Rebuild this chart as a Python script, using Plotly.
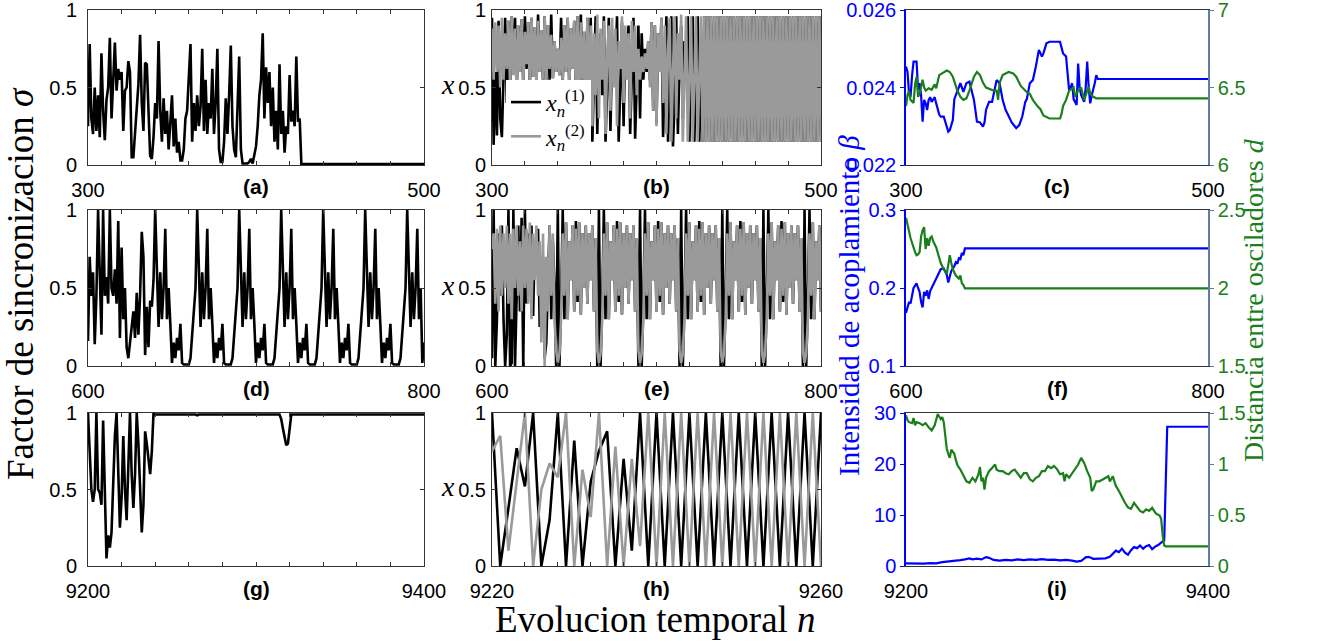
import plotly.graph_objects as go

W, H = 1340, 642

# ---------------- data ----------------
# (a) synchronization factor, n = 300.. (chaotic part), last point n = 500
A_SIGMA = [
    0.25, 0.78, 0.3, 0.2, 0.5, 0.22, 0.45, 0.18, 0.72, 0.35,
    0.16, 0.42, 0.5, 0.82, 0.3, 0.55, 0.79, 0.48, 0.62, 0.55,
    0.6, 0.22, 0.48, 0.5, 0.67, 0.6, 0.05, 0.05, 0.2, 0.38,
    0.52, 0.84, 0.4, 0.22, 0.66, 0.65, 0.3, 0.06, 0.04, 0.18,
    0.4, 0.3, 0.8, 0.35, 0.15, 0.43, 0.2, 0.35, 0.1, 0.28,
    0.45, 0.12, 0.3, 0.08, 0.15, 0.03, 0.03, 0.1, 0.3, 0.35,
    0.58, 0.78, 0.15, 0.4, 0.22, 0.45, 0.25, 0.38, 0.75, 0.22,
    0.55, 0.2, 0.4, 0.3, 0.62, 0.2, 0.4, 0.75, 0.1, 0.02,
    0.02, 0.15, 0.43, 0.2, 0.45, 0.77, 0.25, 0.1, 0.05, 0.38,
    0.7, 0.1, 0.01, 0.01, 0.01, 0.01, 0.02, 0.04, 0.01, 0.08,
    0.12, 0.25, 0.45, 0.55, 0.85, 0.3, 0.63, 0.4, 0.6, 0.25,
    0.5, 0.15, 0.35, 0.1, 0.65, 0.2, 0.35, 0.08, 0.25, 0.2,
    0.58, 0.28, 0.35, 0.25, 0.7, 0.28, 0.3, 0.006,
]
A_END_N = 500
A_END_SIGMA = 0.006

# (b) oscillators x1, x2, n = 300..427 chaotic, then synchronized n = 428..500
B_X1_CHAOS = [
    0.95, 0.13, 0.6, 0.19, 0.93, 0.3, 0.18, 0.6, 0.95, 0.4,
    0.93, 0.5, 0.96, 0.62, 0.95, 0.45, 0.9, 0.6, 0.94, 0.52,
    0.96, 0.62, 0.92, 0.5, 0.95, 0.57, 0.89, 0.55, 0.97, 0.6,
    0.87, 0.55, 0.96, 0.5, 0.9, 0.55, 0.97, 0.56, 0.8, 0.6,
    0.75, 0.58, 0.95, 0.55, 0.9, 0.6, 0.95, 0.5, 0.88, 0.62,
    0.93, 0.45, 0.96, 0.62, 0.97, 0.55, 0.86, 0.35, 0.95, 0.5,
    0.95, 0.15, 0.55, 0.96, 0.2, 0.7, 0.85, 0.45, 0.96, 0.15,
    0.5, 0.95, 0.22, 0.75, 0.8, 0.62, 0.96, 0.15, 0.5, 0.92,
    0.25, 0.8, 0.7, 0.9, 0.2, 0.65, 0.95, 0.17, 0.6, 0.9,
    0.3, 0.85, 0.55, 0.75, 0.6, 0.8, 0.55, 0.92, 0.35, 0.9,
    0.27, 0.85, 0.6, 0.95, 0.18, 0.6, 0.96, 0.15, 0.55, 0.96,
    0.12, 0.4, 0.96, 0.2, 0.65, 0.9, 0.3, 0.8, 0.6, 0.96,
    0.15, 0.55, 0.96, 0.15, 0.55, 0.96, 0.15, 0.55,
]
B_X2_CHAOS = [
    0.88, 0.55, 0.92, 0.6, 0.9, 0.5, 0.95, 0.55, 0.85, 0.62,
    0.93, 0.5, 0.96, 0.58, 0.88, 0.45, 0.9, 0.6, 0.94, 0.52,
    0.86, 0.65, 0.92, 0.5, 0.95, 0.57, 0.89, 0.48, 0.93, 0.6,
    0.87, 0.55, 0.96, 0.5, 0.9, 0.62, 0.84, 0.56, 0.8, 0.6,
    0.75, 0.58, 0.82, 0.55, 0.9, 0.6, 0.95, 0.5, 0.88, 0.62,
    0.93, 0.45, 0.96, 0.4, 0.92, 0.55, 0.86, 0.35, 0.95, 0.5,
    0.9, 0.25, 0.85, 0.45, 0.97, 0.3, 0.88, 0.55, 0.93, 0.2,
    0.7, 0.9, 0.35, 0.95, 0.5, 0.88, 0.25, 0.8, 0.62, 0.96,
    0.4, 0.9, 0.55, 0.85, 0.3, 0.93, 0.6, 0.9, 0.45, 0.75,
    0.55, 0.7, 0.6, 0.72, 0.62, 0.8, 0.5, 0.92, 0.35, 0.9,
    0.25, 0.85, 0.6, 0.95, 0.4, 0.9, 0.2, 0.75, 0.95, 0.15,
    0.6, 0.96, 0.3, 0.85, 0.55, 0.97, 0.15, 0.55, 0.96, 0.15,
    0.5, 0.96, 0.15, 0.55, 0.96, 0.15, 0.55, 0.96,
]
B_SYNC = [
    0.15, 0.96, 0.15, 0.96, 0.15, 0.96, 0.15, 0.96, 0.15, 0.96,
    0.15, 0.96, 0.15, 0.96, 0.15, 0.96, 0.15, 0.96, 0.15, 0.96,
    0.15, 0.96, 0.15, 0.96, 0.15, 0.96, 0.15, 0.96, 0.15, 0.96,
    0.15, 0.96, 0.15, 0.96, 0.15, 0.96, 0.15, 0.96, 0.15, 0.96,
    0.15, 0.96, 0.15, 0.96, 0.15, 0.96, 0.15, 0.96, 0.15, 0.96,
    0.15, 0.96, 0.15, 0.96, 0.15, 0.96, 0.15, 0.96, 0.15, 0.96,
    0.15, 0.96, 0.15, 0.96, 0.15, 0.96, 0.15, 0.96, 0.15, 0.96,
    0.15, 0.96, 0.15,
]

# (c) coupling beta and distance d, n = 300..500
C_N_BETA = [300, 301, 302, 303, 304, 305, 307, 308, 309, 310, 311, 312, 313, 314, 315, 316, 317, 318,
            319, 320, 322, 323, 325, 327, 328, 329, 330, 331, 332, 334, 336, 338, 339, 340, 342, 343,
            345, 347, 349, 351, 352, 353, 355, 357, 358, 360, 362, 364, 366, 368, 370, 372, 373, 375,
            377, 379, 380, 382, 384, 386, 388, 390, 391, 393, 395, 402, 403, 404, 406, 407, 408, 409,
            410, 411, 413, 414, 415, 416, 418, 419, 420, 421, 422, 423, 424, 425, 426, 427, 500]
C_BETA = [0.02454, 0.0244, 0.02385, 0.02376, 0.0243, 0.02467, 0.02467, 0.02394, 0.02411, 0.0238,
          0.02312, 0.02368, 0.0236, 0.02342, 0.02368, 0.02375, 0.02363, 0.02368, 0.02375, 0.02359,
          0.0233, 0.02325, 0.02325, 0.02299, 0.02286, 0.0229, 0.02303, 0.02316, 0.0237, 0.02393,
          0.02411, 0.02389, 0.024, 0.02411, 0.02415, 0.024, 0.02368, 0.02312, 0.0231, 0.02299,
          0.0231, 0.02342, 0.02363, 0.02363, 0.0238, 0.02419, 0.02411, 0.02368, 0.02342, 0.02325,
          0.0231, 0.023, 0.02295, 0.02303, 0.02325, 0.02363, 0.0237, 0.02411, 0.02419, 0.02454,
          0.02497, 0.0248, 0.02488, 0.02514, 0.02518, 0.02518, 0.02505, 0.02488, 0.0248, 0.0243,
          0.02394, 0.024, 0.02411, 0.0237, 0.02355, 0.02462, 0.024, 0.0238, 0.02363, 0.024,
          0.02467, 0.024, 0.02359, 0.0238, 0.02394, 0.02411, 0.02432, 0.02422, 0.02422]
C_N_D = [300, 301, 302, 303, 305, 306, 307, 308, 309, 311, 312, 313, 315, 317, 319, 320, 322, 325,
         327, 329, 331, 334, 336, 338, 340, 342, 345, 347, 349, 351, 353, 358, 360, 361, 362, 364,
         368, 371, 373, 376, 380, 382, 384, 387, 389, 391, 393, 395, 402, 403, 404, 406, 408, 411,
         412, 414, 416, 418, 421, 422, 424, 426, 500]
C_D = [6.38, 6.45, 6.48, 6.42, 6.4, 6.52, 6.57, 6.44, 6.46, 6.55, 6.5, 6.48, 6.495, 6.485, 6.52,
       6.495, 6.58, 6.6, 6.61, 6.6, 6.57, 6.48, 6.44, 6.42, 6.43, 6.48, 6.57, 6.6, 6.58, 6.53,
       6.5, 6.48, 6.48, 6.42, 6.53, 6.58, 6.6, 6.59, 6.57, 6.51, 6.47, 6.46, 6.42, 6.38, 6.36,
       6.32, 6.31, 6.3, 6.3, 6.33, 6.38, 6.42, 6.48, 6.5, 6.44, 6.48, 6.5, 6.42, 6.505, 6.46,
       6.44, 6.43, 6.43]

# (d) synchronization factor, n = 600..800
D_SIGMA = [
    0.16, 0.7, 0.45, 0.6, 0.14, 0.45, 1.0, 0.5, 0.2, 1.0, 0.45, 0.57, 0.4, 1.0, 0.5, 0.45, 0.62, 0.4, 0.93, 0.18,
    0.76, 0.3, 0.5, 0.12, 0.05, 0.15, 0.25, 0.35, 0.18, 0.47, 0.2, 0.45, 0.86, 0.7, 0.07, 0.38, 0.12, 0.42, 0.38, 0.55,
    1.0, 0.6, 0.25, 0.6, 0.3, 0.5, 0.88, 0.3, 0.5, 0.27, 0.02, 0.15, 0.05, 0.18, 0.1, 0.27, 0.02, 0.01, 0.01, 0.01, 0.01, 0.05, 0.2, 0.35, 0.5,
    1.0, 0.6, 0.25, 0.6, 0.3, 0.5, 0.88, 0.3, 0.5, 0.27, 0.02, 0.15, 0.05, 0.18, 0.1, 0.27, 0.02, 0.01, 0.01, 0.01, 0.01, 0.05, 0.2, 0.35, 0.5,
    1.0, 0.6, 0.25, 0.6, 0.3, 0.5, 0.88, 0.3, 0.5, 0.27, 0.02, 0.15, 0.05, 0.18, 0.1, 0.27, 0.02, 0.01, 0.01, 0.01, 0.01, 0.05, 0.2, 0.35, 0.5,
    1.0, 0.6, 0.25, 0.6, 0.3, 0.5, 0.88, 0.3, 0.5, 0.27, 0.02, 0.15, 0.05, 0.18, 0.1, 0.27, 0.02, 0.01, 0.01, 0.01, 0.01, 0.05, 0.2, 0.35, 0.5,
    1.0, 0.6, 0.25, 0.6, 0.3, 0.5, 0.88, 0.3, 0.5, 0.27, 0.02, 0.15, 0.05, 0.18, 0.1, 0.27, 0.02, 0.01, 0.01, 0.01, 0.01, 0.05, 0.2, 0.35, 0.5,
    1.0, 0.6, 0.25, 0.6, 0.3, 0.5, 0.88, 0.3, 0.5, 0.27, 0.02, 0.15, 0.05, 0.18, 0.1, 0.27, 0.02, 0.01, 0.01, 0.01, 0.01, 0.05, 0.2, 0.35, 0.5,
    1.0, 0.6, 0.25, 0.6, 0.3, 0.5, 0.88, 0.3, 0.5, 0.02, 0.15,
]

# (e) oscillators, n = 600..800
E_X1 = [
    0.05, 1.0, 0.0, 0.3, 0.85, 0.45, 0.9, 0.3, 0.0, 0.2, 1.0, 0.0, 0.02, 1.0, 0.0, 0.55, 0.9, 0.35, 0.95, 0.0,
    1.0, 0.4, 0.85, 0.5, 0.9, 0.32, 0.8, 0.6, 0.88, 0.25, 0.6, 0.7, 0.05, 0.15, 0.55, 0.9, 0.3, 0.8, 0.5, 0.0,
    1.0, 0.0, 0.4, 1.0, 0.3, 0.92, 0.3, 0.8, 0.55, 0.9, 0.35, 0.93, 0.41, 0.92, 0.33, 0.85, 0.5, 0.9, 0.4, 0.85, 0.55, 0.9, 0.35, 0.82, 0.0,
    1.0, 0.0, 0.4, 1.0, 0.3, 0.92, 0.3, 0.8, 0.55, 0.9, 0.35, 0.93, 0.41, 0.92, 0.33, 0.85, 0.5, 0.9, 0.4, 0.85, 0.55, 0.9, 0.35, 0.82, 0.0,
    1.0, 0.0, 0.4, 1.0, 0.3, 0.92, 0.3, 0.8, 0.55, 0.9, 0.35, 0.93, 0.41, 0.92, 0.33, 0.85, 0.5, 0.9, 0.4, 0.85, 0.55, 0.9, 0.35, 0.82, 0.0,
    1.0, 0.0, 0.4, 1.0, 0.3, 0.92, 0.3, 0.8, 0.55, 0.9, 0.35, 0.93, 0.41, 0.92, 0.33, 0.85, 0.5, 0.9, 0.4, 0.85, 0.55, 0.9, 0.35, 0.82, 0.0,
    1.0, 0.0, 0.4, 1.0, 0.3, 0.92, 0.3, 0.8, 0.55, 0.9, 0.35, 0.93, 0.41, 0.92, 0.33, 0.85, 0.5, 0.9, 0.4, 0.85, 0.55, 0.9, 0.35, 0.82, 0.0,
    1.0, 0.0, 0.4, 1.0, 0.3, 0.92, 0.3, 0.8, 0.55, 0.9, 0.35, 0.93, 0.41, 0.92, 0.33, 0.85, 0.5, 0.9, 0.4, 0.85, 0.55, 0.9, 0.35, 0.82, 0.0,
    1.0, 0.0, 0.4, 1.0, 0.3, 0.92, 0.3, 0.8, 0.55, 0.9, 0.35,
]
E_X2 = [
    0.75, 0.85, 0.4, 0.88, 0.35, 0.9, 0.45, 0.85, 0.5, 0.9, 0.4, 0.85, 0.3, 0.88, 0.5, 0.9, 0.45, 0.8, 0.35, 0.9,
    0.5, 0.88, 0.4, 0.92, 0.3, 0.85, 0.55, 0.9, 0.45, 0.8, 0.15, 0.85, 0.0, 0.7, 0.35, 0.9, 0.45, 0.85, 0.3, 0.1,
    0.02, 0.08, 0.3, 0.85, 0.45, 0.92, 0.3, 0.8, 0.55, 0.9, 0.35, 0.88, 0.45, 0.92, 0.33, 0.85, 0.5, 0.9, 0.4, 0.85, 0.55, 0.9, 0.35, 0.82, 0.1,
    0.02, 0.08, 0.3, 0.85, 0.45, 0.92, 0.3, 0.8, 0.55, 0.9, 0.35, 0.88, 0.45, 0.92, 0.33, 0.85, 0.5, 0.9, 0.4, 0.85, 0.55, 0.9, 0.35, 0.82, 0.1,
    0.02, 0.08, 0.3, 0.85, 0.45, 0.92, 0.3, 0.8, 0.55, 0.9, 0.35, 0.88, 0.45, 0.92, 0.33, 0.85, 0.5, 0.9, 0.4, 0.85, 0.55, 0.9, 0.35, 0.82, 0.1,
    0.02, 0.08, 0.3, 0.85, 0.45, 0.92, 0.3, 0.8, 0.55, 0.9, 0.35, 0.88, 0.45, 0.92, 0.33, 0.85, 0.5, 0.9, 0.4, 0.85, 0.55, 0.9, 0.35, 0.82, 0.1,
    0.02, 0.08, 0.3, 0.85, 0.45, 0.92, 0.3, 0.8, 0.55, 0.9, 0.35, 0.88, 0.45, 0.92, 0.33, 0.85, 0.5, 0.9, 0.4, 0.85, 0.55, 0.9, 0.35, 0.82, 0.1,
    0.02, 0.08, 0.3, 0.85, 0.45, 0.92, 0.3, 0.8, 0.55, 0.9, 0.35, 0.88, 0.45, 0.92, 0.33, 0.85, 0.5, 0.9, 0.4, 0.85, 0.55, 0.9, 0.35, 0.82, 0.1,
    0.02, 0.08, 0.3, 0.85, 0.45, 0.92, 0.3, 0.8, 0.55, 0.9, 0.35,
]

# (f) coupling and distance, n = 600..800
F_N_BETA = [600, 601, 602, 603, 604, 605, 606, 607, 608, 609, 610, 611, 612, 613, 614, 615, 616, 617,
            618, 620, 621, 623, 625, 627, 628, 629, 630, 632, 633, 634, 635, 636, 637, 638, 639, 800]
F_BETA = [0.168, 0.175, 0.182, 0.18, 0.19, 0.2, 0.203, 0.206, 0.2, 0.195, 0.182, 0.175, 0.195, 0.19,
          0.197, 0.186, 0.196, 0.2, 0.205, 0.212, 0.218, 0.224, 0.225, 0.217, 0.207, 0.214, 0.222,
          0.228, 0.233, 0.231, 0.238, 0.237, 0.245, 0.242, 0.2507, 0.2507]
F_N_D = [600, 601, 602, 603, 604, 605, 606, 607, 608, 609, 610, 611, 612, 613, 614, 615, 616, 617,
         618, 620, 621, 623, 625, 627, 628, 629, 630, 631, 633, 635, 636, 637, 638, 639, 800]
F_D = [2.45, 2.4, 2.36, 2.32, 2.29, 2.25, 2.23, 2.21, 2.215, 2.23, 2.33, 2.37, 2.39, 2.25, 2.32,
       2.27, 2.32, 2.33, 2.3, 2.26, 2.22, 2.16, 2.12, 2.09, 2.15, 2.21, 2.16, 2.12, 2.08, 2.06,
       2.08, 2.03, 2.02, 1.997, 1.997]

# (g) synchronization factor, n = 9200..9400
G_N = list(range(9200, 9241)) + [9264, 9265, 9266, 9314, 9315, 9316, 9317, 9318, 9319, 9320, 9321, 9400]
G_SIGMA = [1.0, 0.75, 0.5, 0.42, 0.5, 1.0, 0.5, 0.48, 0.4, 0.95,
           0.55, 0.05, 0.2, 0.12, 0.22, 0.55, 0.85, 1.0, 0.6, 0.25,
           0.45, 0.85, 0.5, 0.3, 0.65, 1.0, 0.6, 0.38, 0.6, 1.0,
           0.8, 0.5, 0.22, 0.4, 0.88, 0.8, 0.7, 0.6, 0.75, 1.0, 0.99,
           0.99, 0.985, 0.99, 0.99, 0.96, 0.9, 0.83, 0.79, 0.8, 0.9, 0.99, 0.99]

# (h) oscillators, n = 9220..9260
H_X1 = [1.0, 0.0, 0.38, 0.77, 0.52, 1.0, 0.0, 0.3, 1.0, 0.0, 0.82, 0.0, 0.55, 0.75, 0.88, 0.0, 0.7, 0.1,
        1.0, 0.0, 1.0, 0.0, 1.0, 0.0, 1.0, 0.0, 1.0, 0.0, 1.0, 0.0, 1.0, 0.0, 1.0, 0.0, 1.0, 0.0,
        1.0, 0.0, 1.0, 0.0, 1.0]
H_X2 = [0.75, 0.85, 0.1, 0.55, 1.0, 0.0, 0.5, 0.67, 0.58, 1.0, 0.0, 0.63, 0.32, 1.0, 0.0, 0.78, 0.0, 0.7, 0.13,
        1.0, 0.0, 1.0, 0.0, 1.0, 0.0, 1.0, 0.0, 1.0, 0.0, 1.0, 0.0, 1.0, 0.0, 1.0, 0.0, 1.0, 0.0,
        1.0, 0.0, 1.0, 0.0]

# (i) coupling and distance, n = 9200..9400
I_N_BETA = [9200, 9204, 9208, 9212, 9216, 9220, 9224, 9228, 9232, 9236, 9239, 9242, 9244, 9247, 9250,
            9253, 9255, 9258, 9262, 9266, 9270, 9274, 9278, 9282, 9286, 9290, 9294, 9298, 9302, 9306,
            9310, 9313, 9316, 9319, 9321, 9324, 9328, 9332, 9335, 9337, 9339, 9341, 9343, 9345, 9347,
            9349, 9351, 9353, 9355, 9357, 9359, 9361, 9363, 9365, 9367, 9369, 9371, 9373, 9400]
I_BETA = [0.5, 0.45, 0.5, 0.48, 0.55, 0.52, 0.75, 0.85, 1.0, 1.15, 1.3, 1.5, 1.3, 1.45, 1.3,
          1.75, 1.6, 1.2, 1.05, 1.2, 1.1, 1.3, 1.15, 1.3, 1.2, 1.35, 1.2, 1.25, 1.1, 1.2,
          1.05, 0.85, 1.0, 1.7, 1.8, 1.4, 1.45, 1.5, 1.8, 2.4, 3.0, 2.7, 3.4, 2.6, 2.2,
          3.1, 3.7, 3.5, 4.0, 3.4, 3.9, 4.1, 3.3, 3.8, 4.1, 4.6, 5.0, 27.3, 27.3]
I_N_D = [9200, 9201, 9202, 9204, 9205, 9206, 9207, 9209, 9211, 9213, 9215, 9217, 9219, 9221, 9223,
         9224, 9225, 9226, 9227, 9228, 9229, 9230, 9232, 9233, 9234, 9236, 9238, 9240, 9242, 9244,
         9246, 9248, 9249, 9250, 9251, 9252, 9253, 9255, 9257, 9258, 9259, 9260, 9262, 9264, 9266,
         9268, 9270, 9272, 9274, 9276, 9278, 9280, 9282, 9284, 9286, 9288, 9290, 9292, 9294, 9296,
         9298, 9300, 9302, 9304, 9305, 9306, 9308, 9310, 9312, 9314, 9316, 9318, 9320, 9322, 9323,
         9324, 9326, 9328, 9330, 9332, 9334, 9335, 9337, 9338, 9339, 9341, 9343, 9345, 9347, 9349,
         9351, 9353, 9355, 9357, 9359, 9361, 9363, 9365, 9366, 9368, 9369, 9370, 9371, 9372, 9400]
I_D = [1.477, 1.43, 1.41, 1.4, 1.45, 1.38, 1.41, 1.4, 1.38, 1.4, 1.36, 1.33, 1.38, 1.49, 1.44,
       1.46, 1.41, 1.27, 1.15, 1.1, 1.06, 1.14, 1.1, 1.04, 0.99, 0.945, 0.88, 0.83, 0.816, 0.865,
       0.83, 0.9, 0.97, 0.83, 0.865, 0.75, 0.865, 0.93, 0.96, 0.98, 0.995, 0.945, 0.93, 0.93, 0.91,
       0.9, 0.93, 0.945, 0.9, 0.865, 0.91, 0.91, 0.85, 0.83, 0.865, 0.88, 0.93, 0.93, 0.98, 0.96,
       0.98, 0.95, 0.9, 0.91, 0.83, 0.9, 0.865, 0.91, 0.96, 0.995, 1.06, 1.01, 0.93, 0.865, 0.735,
       0.75, 0.83, 0.83, 0.845, 0.865, 0.88, 0.83, 0.88, 0.83, 0.785, 0.735, 0.67, 0.62, 0.575, 0.56,
       0.62, 0.575, 0.54, 0.525, 0.555, 0.54, 0.57, 0.525, 0.51, 0.495, 0.46, 0.3, 0.2, 0.193, 0.193]

X_RANGES = [(300, 500), (300, 500), (300, 500),
            (600, 800), (600, 800), (600, 800),
            (9200, 9400), (9220, 9260), (9200, 9400)]
MINOR_STEP = [20, 20, None, 20, 20, None, 20, 4, None]
PANEL_LABELS = ["(a)", "(b)", "(c)", "(d)", "(e)", "(f)", "(g)", "(h)", "(i)"]
BETA_RANGES = [(0.022, 0.026), (0.1, 0.3), (0, 30)]
BETA_TICKS = [[0.022, 0.024, 0.026], [0.1, 0.2, 0.3], [0, 10, 20, 30]]
BETA_TEXT = [["0.022", "0.024", "0.026"], ["0.1", "0.2", "0.3"], ["0", "10", "20", "30"]]
D_RANGES = [(6, 7), (1.5, 2.5), (0, 1.5)]
D_TICKS = [[6, 6.5, 7], [1.5, 2, 2.5], [0, 0.5, 1, 1.5]]
D_TEXT = [["6", "6.5", "7"], ["1.5", "2", "2.5"], ["0", "0.5", "1", "1.5"]]

# ---------------- layout geometry (pixels) ----------------
COLX = [(88, 424), (492, 821), (906, 1208)]
ROWY = [(10, 165), (210, 366), (413, 566)]

BLACK = "#000000"
GRAY = "#9a9a9a"
BLUE = "#0000ff"
GREEN = "#1a7f1a"
FRAME = "#333333"
SANS = "Liberation Sans, Arial, Helvetica, sans-serif"
SERIF = "Liberation Serif, Times New Roman, serif"
TICKFONT = dict(family=SANS, size=20, color="black")


def xdom(c):
    return [COLX[c][0] / W, COLX[c][1] / W]


def ydom(r):
    return [1 - ROWY[r][1] / H, 1 - ROWY[r][0] / H]


def ax(kind, p):
    return kind if p == 1 else f"{kind}{p}"


fig = go.Figure()


def add_line(p, x, y, color, width, name=None, showlegend=False, yaxis=None):
    fig.add_trace(go.Scatter(
        x=x, y=y, mode="lines", name=name, showlegend=showlegend,
        line=dict(color=color, width=width),
        xaxis=ax("x", p), yaxis=yaxis or ax("y", p), hoverinfo="skip"))


def seq(start, vals):
    return [start + i for i in range(len(vals))]


# (a)
add_line(1, seq(300, A_SIGMA) + [A_END_N], A_SIGMA + [A_END_SIGMA], BLACK, 2.6)
# (b)
b_x1 = B_X1_CHAOS + B_SYNC
b_x2 = B_X2_CHAOS + B_SYNC
add_line(2, seq(300, b_x1), b_x1, BLACK, 2.6, "<i>x</i><sub><i>n</i></sub><sup>(1)</sup>", True)
add_line(2, seq(300, b_x2), b_x2, GRAY, 2.6, "<i>x</i><sub><i>n</i></sub><sup>(2)</sup>", True)
# (c)
add_line(3, C_N_BETA, C_BETA, BLUE, 2.2)
add_line(3, C_N_D, C_D, GREEN, 2.2, yaxis="y10")
# (d)
add_line(4, seq(600, D_SIGMA), D_SIGMA, BLACK, 2.6)
# (e)
add_line(5, seq(600, E_X1), E_X1, BLACK, 2.6)
add_line(5, seq(600, E_X2), E_X2, GRAY, 2.6)
# (f)
add_line(6, F_N_BETA, F_BETA, BLUE, 2.2)
add_line(6, F_N_D, F_D, GREEN, 2.2, yaxis="y11")
# (g)
add_line(7, G_N, G_SIGMA, BLACK, 2.6)
# (h)
add_line(8, seq(9220, H_X1), H_X1, BLACK, 2.6)
add_line(8, seq(9220, H_X2), H_X2, GRAY, 2.6)
# (i)
add_line(9, I_N_BETA, I_BETA, BLUE, 2.2)
add_line(9, I_N_D, I_D, GREEN, 2.2, yaxis="y12")

layout = dict(
    width=W, height=H, margin=dict(l=0, r=0, t=0, b=0, autoexpand=False),
    paper_bgcolor="white", plot_bgcolor="white",
    showlegend=True,
    legend=dict(x=506 / W, y=1 - 80 / H, xanchor="left", yanchor="top",
                bgcolor="white", borderwidth=0,
                font=dict(family=SERIF, size=24, color="black"),
                itemwidth=30, tracegroupgap=6),
)

common = dict(showgrid=False, zeroline=False, automargin=False, ticklabeloverflow="allow")

annotations = []
for r in range(3):
    for c in range(3):
        p = r * 3 + c + 1
        x0, x1 = X_RANGES[p - 1]
        if c < 2:
            step = MINOR_STEP[p - 1]
            tv = list(range(x0, x1 + 1, step))
            tt = [str(v) if v in (x0, x1) else "" for v in tv]
            xa = dict(domain=xdom(c), anchor=ax("y", p), range=[x0, x1],
                      tickmode="array", tickvals=tv, ticktext=tt,
                      ticks="inside", ticklen=4, tickwidth=1, tickcolor=FRAME,
                      mirror="ticks", showline=True, linecolor=FRAME, linewidth=1,
                      tickfont=TICKFONT, ticklabelstandoff=7, **common)
            ya = dict(domain=ydom(r), anchor=ax("x", p), range=[0, 1],
                      tickmode="array", tickvals=[0, 0.5, 1], ticktext=["0", "0.5", "1"],
                      ticks="inside", ticklen=4, tickwidth=1, tickcolor=FRAME,
                      mirror="ticks", showline=True, linecolor=FRAME, linewidth=1,
                      tickfont=TICKFONT, ticklabelstandoff=6 if c == 0 else 1, **common)
        else:
            xa = dict(domain=xdom(c), anchor=ax("y", p), range=[x0, x1],
                      tickmode="array", tickvals=[x0, x1], ticktext=[str(x0), str(x1)],
                      ticks="", mirror=True, showline=True, linecolor=FRAME, linewidth=1,
                      tickfont=TICKFONT, ticklabelstandoff=7, **common)
            ya = dict(domain=ydom(r), anchor=ax("x", p), range=list(BETA_RANGES[r]),
                      tickmode="array", tickvals=BETA_TICKS[r], ticktext=BETA_TEXT[r],
                      ticks="outside", ticklen=4, tickcolor=BLUE,
                      showline=True, linecolor=BLUE, linewidth=1.5,
                      tickfont=dict(family=SANS, size=20, color=BLUE), **common)
            yd = dict(overlaying=ax("y", p), side="right", anchor=ax("x", p),
                      range=list(D_RANGES[r]),
                      tickmode="array", tickvals=D_TICKS[r], ticktext=D_TEXT[r],
                      ticks="outside", ticklen=4, tickcolor="#5f7f9f",
                      showline=True, linecolor="#5f7f9f", linewidth=1.5,
                      tickfont=dict(family=SANS, size=20, color=GREEN), **common)
            layout[f"yaxis{10 + r}"] = yd
        layout["xaxis" if p == 1 else f"xaxis{p}"] = xa
        layout["yaxis" if p == 1 else f"yaxis{p}"] = ya

        # panel label
        cx = (COLX[c][0] + COLX[c][1]) / 2
        annotations.append(dict(
            x=cx / W, y=1 - (ROWY[r][1] + 22) / H, xref="paper", yref="paper",
            text=f"<b>{PANEL_LABELS[p - 1]}</b>", showarrow=False,
            font=dict(family=SANS, size=21, color="black"),
            xanchor="center", yanchor="middle"))
        # "x" label for column 2
        if c == 1:
            cy = (ROWY[r][0] + ROWY[r][1]) / 2 - 3
            annotations.append(dict(
                x=448 / W, y=1 - cy / H, xref="paper", yref="paper",
                text="<i>x</i>", showarrow=False,
                font=dict(family=SERIF, size=28, color="black"),
                xanchor="center", yanchor="middle"))

annotations += [
    dict(x=20 / W, y=1 - 284 / H, xref="paper", yref="paper",
         text="Factor de sincronizacion <i>σ</i>", textangle=-90, showarrow=False,
         font=dict(family=SERIF, size=37, color="black"),
         xanchor="center", yanchor="middle"),
    dict(x=655 / W, y=1 - 619 / H, xref="paper", yref="paper",
         text="Evolucion temporal <i>n</i>", showarrow=False,
         font=dict(family=SERIF, size=37, color="black"),
         xanchor="center", yanchor="middle"),
    dict(x=849 / W, y=1 - 306 / H, xref="paper", yref="paper",
         text="Intensidad de acoplamiento <i>β</i>", textangle=-90, showarrow=False,
         font=dict(family=SERIF, size=29, color=BLUE),
         xanchor="center", yanchor="middle"),
    dict(x=1253 / W, y=1 - 300 / H, xref="paper", yref="paper",
         text="Distancia entre osciladores <i>d</i>", textangle=-90, showarrow=False,
         font=dict(family=SERIF, size=28, color=GREEN),
         xanchor="center", yanchor="middle"),
]
layout["annotations"] = annotations

fig.update_layout(**layout)
fig.write_html(
    "out.html",
    config={"displayModeBar": False},
    post_script="document.body.style.margin='0px';document.body.style.padding='0px';"
                "document.documentElement.style.overflow='hidden';",
)
